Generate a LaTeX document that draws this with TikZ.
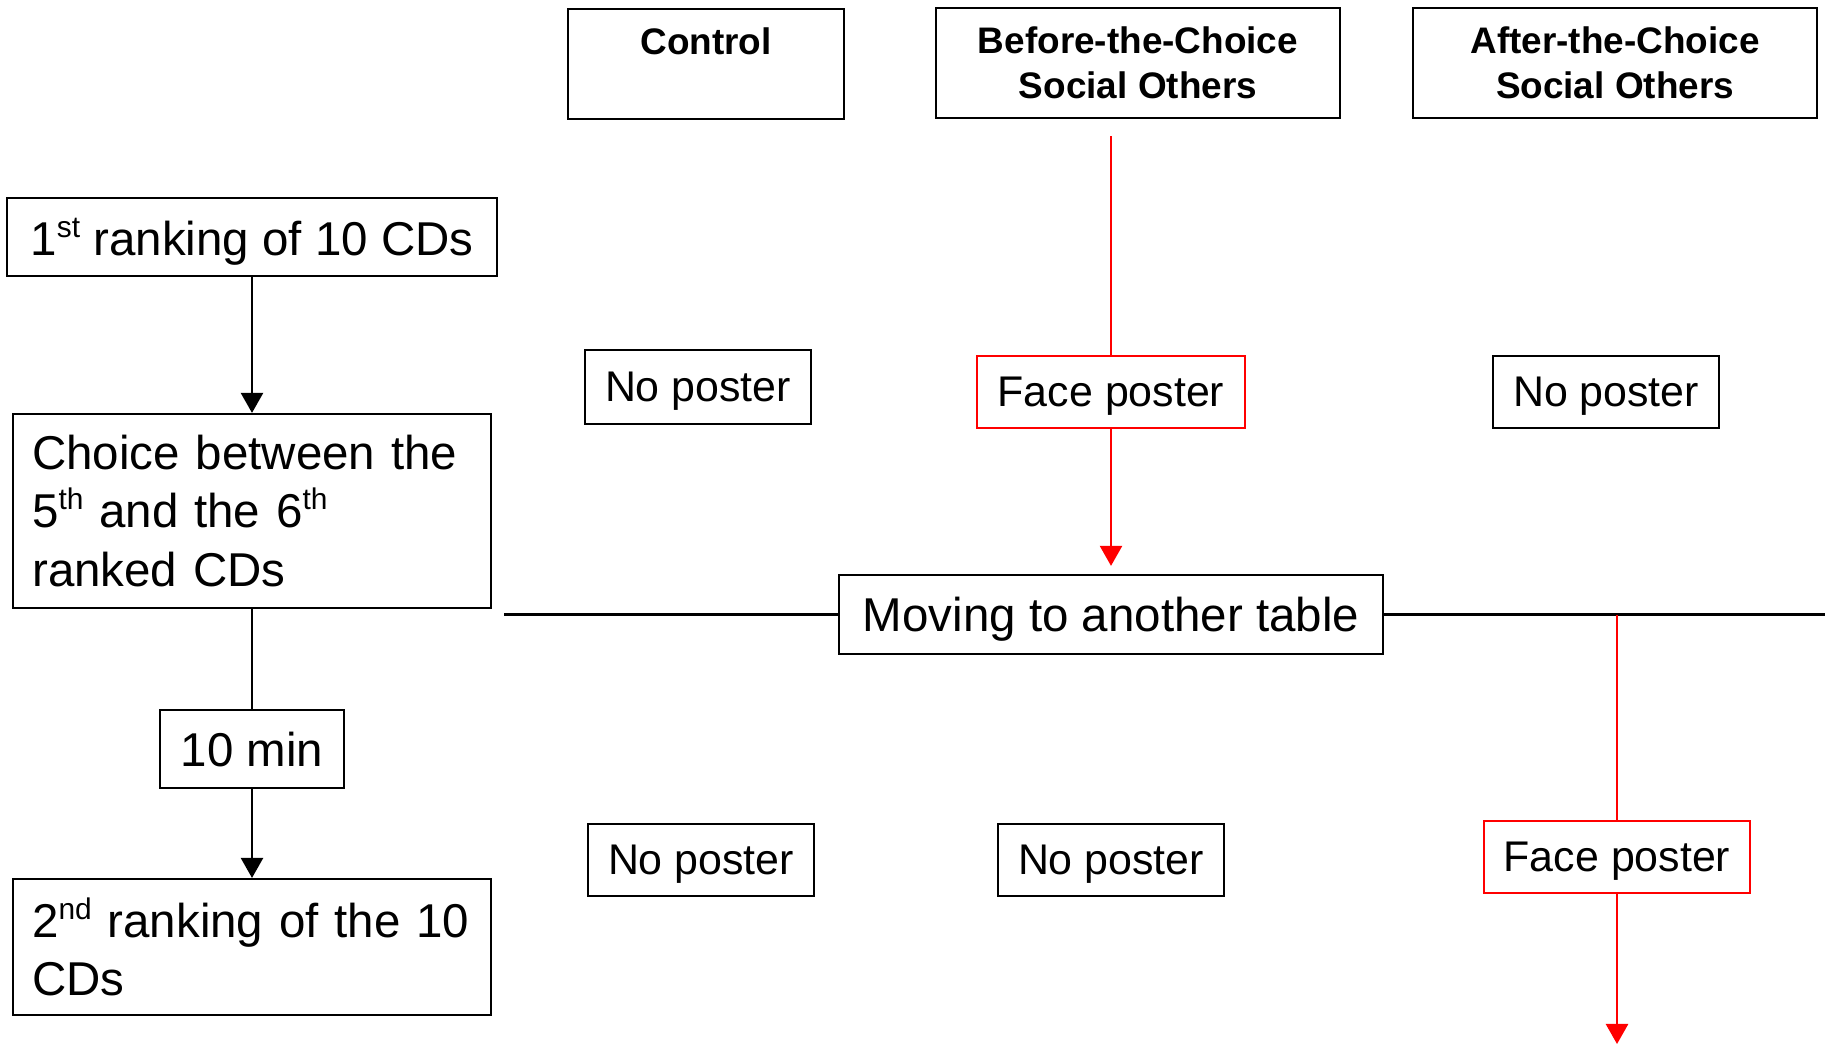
\documentclass[tikz,border=0pt]{standalone}
\usepackage{fontspec}
\setmainfont{Liberation Sans}
\usetikzlibrary{arrows.meta}
\newcommand\ordsup[1]{\raisebox{5.2pt}{\fontsize{8.5}{8.5}\selectfont #1}}
\begin{document}
\begin{tikzpicture}[x=0.01cm, y=-0.01cm, >={Triangle[width=6.3pt,length=5.7pt]}, line width=0.6pt,
  box/.style={draw, inner sep=0pt, align=center, text depth=0pt, font=\fontsize{13.5}{16.5}\selectfont},
  head/.style={draw, inner sep=0pt, align=center, font=\fontsize{10.5}{12.9}\selectfont\bfseries, minimum height=1.10cm},
  step box/.style={draw, inner xsep=5.5pt, inner ysep=0pt, align=left, text width=125pt, font=\fontsize{13.5}{16.5}\selectfont},
  poster/.style={box, font=\fontsize{12.2}{14}\selectfont, minimum width=2.26cm, minimum height=0.72cm},
  face/.style={poster, draw=red, minimum width=2.67cm}]
\useasboundingbox (0,0) rectangle (1825,1044);
% conditions
\node[head, minimum width=2.76cm] (ctrl) at (706,64) {Control\\\mbox{}};
\node[head, minimum width=4.04cm] (before) at (1138,63) {Before-the-Choice\\Social Others};
\node[head, minimum width=4.04cm] (after) at (1615,63) {After-the-Choice\\Social Others};
% procedure
\node[box, minimum width=4.90cm, minimum height=0.78cm] (rank1) at (252,237) {1\ordsup{st} ranking of 10 CDs};
\node[step box, minimum height=1.94cm] (choice) at (252,511) {Choice between the\\5\ordsup{th} and the 6\ordsup{th}\\ranked CDs};
\node[box, minimum width=1.84cm, minimum height=0.78cm] (wait) at (252,749) {10 min};
\node[step box, minimum height=1.36cm] (rank2) at (252,947) {2\ordsup{nd} ranking of the 10\\CDs};
% posters
\node[poster, minimum height=0.74cm] (np1) at (698,387) {No poster};
\node[face] (fp1) at (1111,392) {Face poster};
\node[poster] (np2) at (1606,392) {No poster};
\node[box, minimum width=5.43cm, minimum height=0.79cm] (move) at (1111,614.5) {Moving to another table};
\node[poster] (np3) at (701,860) {No poster};
\node[poster] (np4) at (1111,860) {No poster};
\node[face, minimum width=2.66cm] (fp2) at (1617,857) {Face poster};
\coordinate (bs) at (1111,136);
\coordinate (as) at (1617,614.5);
\coordinate (ae) at (1617,1044);
\coordinate (hl) at (504,614.5);
\coordinate (hr) at (1825,614.5);
\draw[->] (rank1) -- (choice);
\draw (choice) -- (wait);
\draw[->] (wait) -- (rank2);
\draw (hl) -- (move);
\draw (move) -- (hr);
\draw[red] (bs) -- (fp1);
\draw[red, ->, shorten >=2.3pt] (fp1) -- (move);
\draw[red] (as) -- (fp2);
\draw[red, ->] (fp2) -- (ae);
\end{tikzpicture}
\end{document}
